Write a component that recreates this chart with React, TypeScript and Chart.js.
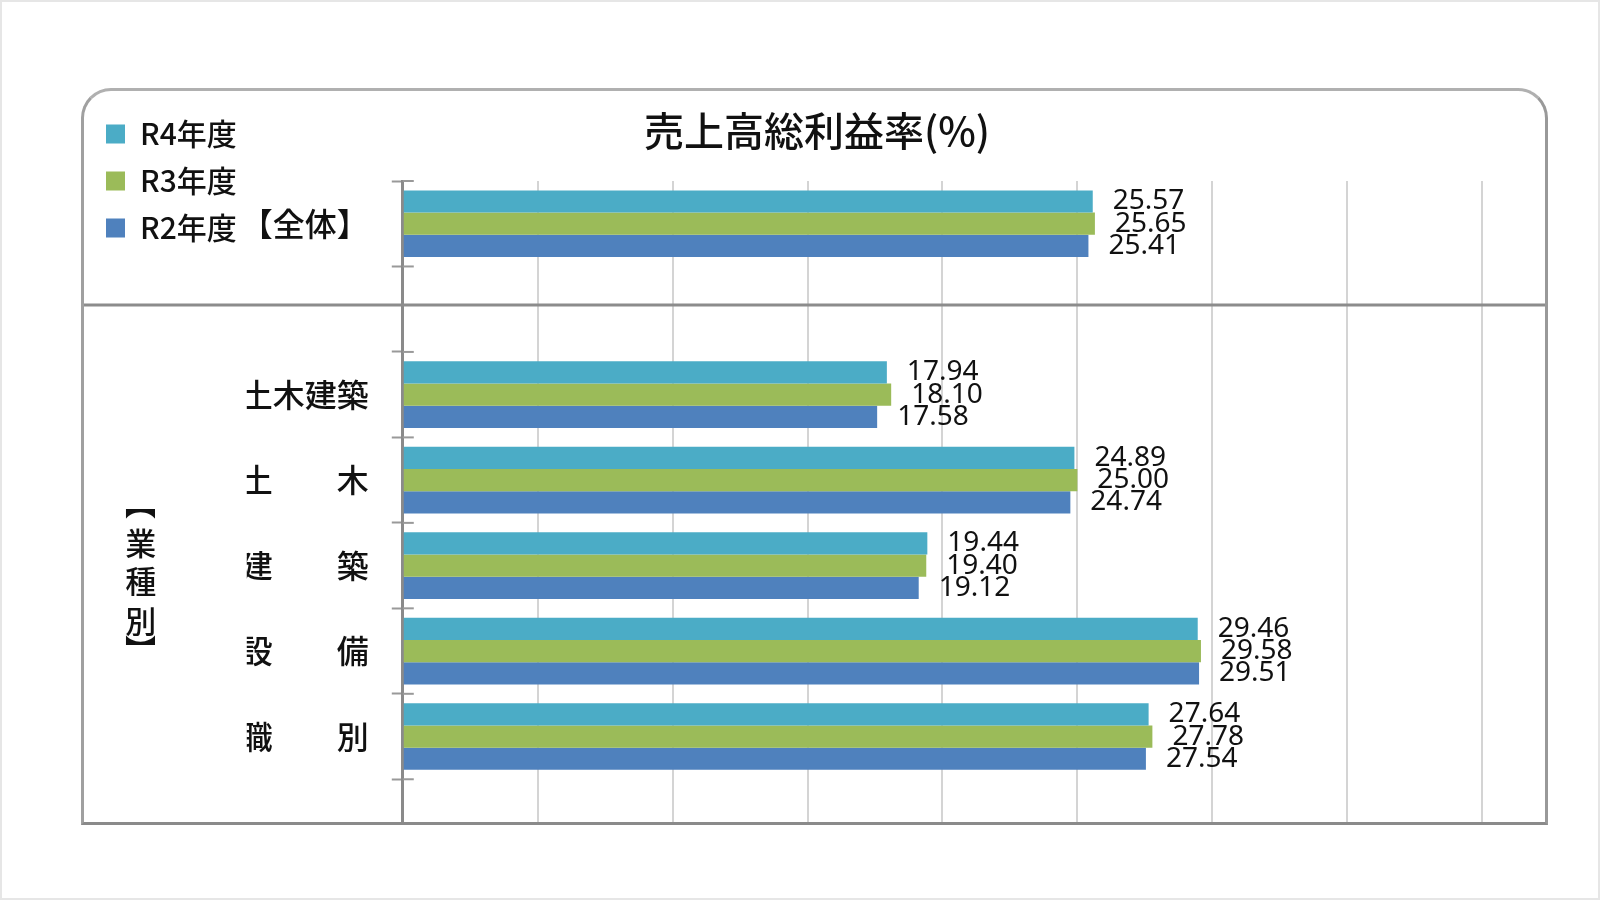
import React, { useEffect, useRef } from 'react'
import { Chart, registerables } from 'chart.js'

Chart.register(...registerables)

const JP = "'Noto Sans CJK JP', 'Noto Sans CJK SC', sans-serif"
Chart.defaults.font.family = JP

// data
const categories = ['【全体】', '土木建築', '土　　木', '建　　築', '設　　備', '職　　別']
const seriesNames = ['R4年度', 'R3年度', 'R2年度']
const r4Values = [25.57, 17.94, 24.89, 19.44, 29.46, 27.64]
const r3Values = [25.65, 18.10, 25.00, 19.40, 29.58, 27.78]
const r2Values = [25.41, 17.58, 24.74, 19.12, 29.51, 27.54]
const seriesColors = ['#4BACC6', '#9BBB59', '#4F81BD']
const xTicks = [0, 5, 10, 15, 20, 25, 30, 35, 40]
const sideLabel = ['【', '業', '種', '別', '】']

// one empty slot is left between 【全体】 and the rest
const slotOf = (i: number) => (i === 0 ? 0 : i + 1)
const slots = categories.map((_, i) => slotOf(i))
const slotEdges = Array.from({ length: slots[slots.length - 1] + 2 }, (_, k) => k - 0.5)

const decorPlugin = {
    id: 'decor',
    afterDatasetsDraw(chart: any) {
        const { ctx } = chart
        ctx.save()
        ctx.fillStyle = '#111'
        ctx.font = "28px 'Noto Sans', sans-serif"
        ctx.textAlign = 'left'
        ctx.textBaseline = 'middle'
        chart.data.datasets.forEach((ds: any, di: number) => {
            const meta = chart.getDatasetMeta(di)
            meta.data.forEach((bar: any, i: number) => {
                ctx.fillText(ds.data[i].x.toFixed(2), bar.x + 20, bar.y)
            })
        })
        ctx.restore()
    },
    afterDraw(chart: any) {
        const { ctx, chartArea, scales } = chart
        const y = scales.y
        ctx.save()
        // inner half of the slot tick marks
        ctx.strokeStyle = '#999'
        ctx.lineWidth = 2
        y.ticks.forEach((_: any, i: number) => {
            const py = y.getPixelForTick(i)
            ctx.beginPath()
            ctx.moveTo(chartArea.left, py)
            ctx.lineTo(chartArea.left + 11, py)
            ctx.stroke()
        })
        // separator under 【全体】
        const sy = y.getPixelForValue(0.95)
        ctx.strokeStyle = '#8c8c8c'
        ctx.lineWidth = 3
        ctx.beginPath()
        ctx.moveTo(0, sy)
        ctx.lineTo(chart.width, sy)
        ctx.stroke()
        // vertical 【業種別】
        const offsets = [-77, -38, 0, 40, 69]
        const cx = chartArea.left - 262
        const cy = y.getPixelForValue(4.18)
        ctx.fillStyle = '#111'
        ctx.font = `500 31px ${JP}`
        ctx.textAlign = 'center'
        ctx.textBaseline = 'middle'
        sideLabel.forEach((ch, k) => {
            ctx.save()
            ctx.translate(cx, cy + offsets[k])
            if (ch === '【' || ch === '】') ctx.rotate(Math.PI / 2)
            ctx.fillText(ch, 0, 0)
            ctx.restore()
        })
        ctx.restore()
    }
}

const App: React.FunctionComponent = () => {

    const canvasRef = useRef<HTMLCanvasElement>(null)

    useEffect(() => {
        const series = [r4Values, r3Values, r2Values]
        const chart = new Chart(canvasRef.current as HTMLCanvasElement, {
            type: 'bar',
            data: {
                datasets: series.map((vals, s) => ({
                    label: seriesNames[s],
                    data: vals.map((v, i) => ({ x: v, y: slotOf(i) })),
                    backgroundColor: seriesColors[s],
                    borderWidth: 0,
                    categoryPercentage: 0.78,
                    barPercentage: 1,
                })) as any
            },
            options: {
                animation: false,
                responsive: true,
                maintainAspectRatio: false,
                indexAxis: 'y',
                layout: { padding: { left: 5, top: 11, right: 0, bottom: 0 } },
                plugins: {
                    title: {
                        display: true,
                        text: '売上高総利益率(%)',
                        color: '#111',
                        font: { size: 40, family: JP, weight: 500 },
                        padding: { top: 5, bottom: 26 },
                    },
                    legend: {
                        position: 'left',
                        align: 'start',
                        labels: {
                            boxWidth: 19,
                            boxHeight: 19,
                            padding: 17,
                            color: '#111',
                            font: { size: 30, family: JP, weight: 500 },
                        },
                    },
                    tooltip: { enabled: false },
                },
                scales: {
                    x: {
                        type: 'linear',
                        min: 0,
                        max: 42.33,
                        afterBuildTicks: (s: any) => { s.ticks = xTicks.map(value => ({ value })) },
                        ticks: { display: false },
                        grid: { color: '#d4d4d4', lineWidth: 2, drawTicks: false },
                        border: { display: false },
                    },
                    y: {
                        type: 'linear',
                        reverse: true,
                        offset: false,
                        min: -0.5,
                        max: 7,
                        position: 'left',
                        weight: 0,
                        afterBuildTicks: (s: any) => { s.ticks = slotEdges.map(value => ({ value })) },
                        ticks: { display: false },
                        grid: { offset: false, drawOnChartArea: false, tickLength: 11, tickColor: '#999', tickWidth: 2 },
                        border: { color: '#8a8a8a', width: 3 },
                    },
                    yLabels: {
                        type: 'linear',
                        reverse: true,
                        offset: false,
                        min: -0.5,
                        max: 7,
                        position: 'left',
                        weight: 1,
                        afterBuildTicks: (s: any) => { s.ticks = slots.map(value => ({ value })) },
                        afterFit: (s: any) => { s.width = 145; s.paddingTop = 0; s.paddingBottom = 0 },
                        ticks: {
                            autoSkip: false,
                            padding: 23,
                            color: '#111',
                            font: { size: 32, family: JP, weight: 500 },
                            callback: (v: any) => categories[slots.indexOf(v)],
                        },
                        grid: { display: false, drawTicks: false, offset: false },
                        border: { display: false },
                    },
                } as any,
            },
            plugins: [decorPlugin],
        })
        return () => chart.destroy()
    }, [])

    return (
        <div style={{ position: 'absolute', left: 0, top: 0, width: 1600, height: 900, boxSizing: 'border-box', border: '2px solid #e6e6e6', background: '#fff' }}>
            <div style={{ position: 'absolute', left: 79, top: 86, width: 1467, height: 737, boxSizing: 'border-box', borderStyle: 'solid', borderWidth: 3, borderColor: '#b0b0b0 #999 #8a8a8a #a0a0a0', borderRadius: '30px 30px 0 0', background: '#fff' }}>
                <div style={{ position: 'absolute', left: 0, top: 0, width: 1461, height: 731 }}>
                    <canvas ref={canvasRef}></canvas>
                </div>
            </div>
        </div>
    )
}

export default App
